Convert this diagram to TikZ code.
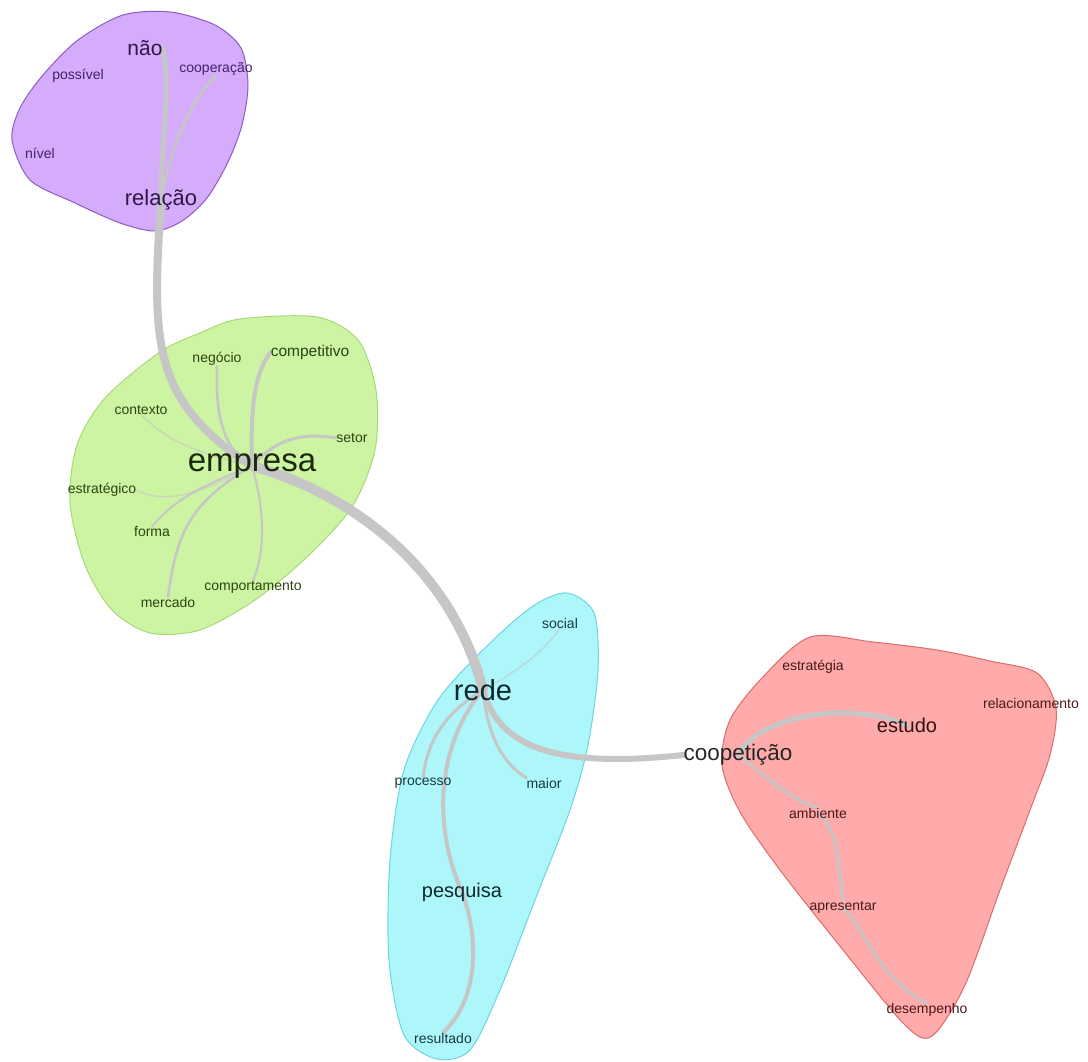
\documentclass[tikz,border=0pt]{standalone}
\usepackage{fontspec}
\setmainfont{Liberation Sans}
\pgfdeclarelayer{hulls}
\pgfdeclarelayer{links}
\pgfsetlayers{hulls,links,main}
\definecolor{pfill}{HTML}{D4ACFB}\definecolor{pline}{HTML}{8E5CC4}\definecolor{ptext}{HTML}{452066}
\definecolor{gfill}{HTML}{CDF4A2}\definecolor{gline}{HTML}{A8D878}\definecolor{gtext}{HTML}{2C4410}
\definecolor{cfill}{HTML}{ADF7FA}\definecolor{cline}{HTML}{6CD4E4}\definecolor{ctext}{HTML}{143A42}
\definecolor{rfill}{HTML}{FFABAB}\definecolor{rline}{HTML}{E06A6A}\definecolor{rtext}{HTML}{4A1818}
\definecolor{edgegray}{HTML}{C6C6C6}
\tikzset{
  lbl/.style={inner sep=0pt,font=\fontsize{14}{14}\selectfont},
  big/.style={inner sep=0pt,font=\fontsize{#1}{#1}\selectfont},
  hull/.style={line width=1pt},
  link/.style={draw=edgegray,line width=#1,line cap=round},
  faint/.style={draw=edgegray,line width=1.5pt,opacity=0.6,line cap=round}
}
\begin{document}
\begin{tikzpicture}[x=1pt,y=-1pt]
\useasboundingbox (0,0) rectangle (1088,1062);
% ---------- nodes ----------
% purple
\node[big=21,text=ptext!70!black] (nao) at (145,48) {não};
\node[lbl,text=ptext] (coop1) at (216,69) {cooperação};
\node[lbl,text=ptext] (possivel) at (78,76) {possível};
\node[lbl,text=ptext] (nivel) at (40,153) {nível};
\node[big=22,text=ptext!70!black] (rel) at (161,200) {relação};
% green
\node[lbl,text=gtext] (negocio) at (217,359) {negócio};
\node[big=15.5,text=gtext] (compet) at (310,352) {competitivo};
\node[lbl,text=gtext] (contexto) at (141,410) {contexto};
\node[lbl,text=gtext] (setor) at (352,438) {setor};
\node[big=33,text=gtext!60!black] (emp) at (252,466) {empresa};
\node[lbl,text=gtext] (estrat) at (102,490) {estratégico};
\node[lbl,text=gtext] (forma) at (152,532) {forma};
\node[lbl,text=gtext] (comport) at (253,587) {comportamento};
\node[lbl,text=gtext] (mercado) at (168,602) {mercado};
% cyan
\node[lbl,text=ctext] (social) at (560,623) {social};
\node[big=29,text=ctext!70!black] (rede) at (483,690) {rede};
\node[lbl,text=ctext] (processo) at (423,783) {processo};
\node[lbl,text=ctext] (maior) at (544,783) {maior};
\node[big=20,text=ctext!70!black] (pesq) at (462,892) {pesquisa};
\node[lbl,text=ctext] (result) at (443,1038) {resultado};
% red
\node[lbl,text=rtext] (estrategia) at (813,667) {estratégia};
\node[lbl,text=rtext] (relacion) at (1031,703) {relacionamento};
\node[big=20,text=rtext!70!black] (estudo) at (907,725) {estudo};
\node[big=22.5,text=black!85] (coop) at (738,755) {coopetição};
\node[lbl,text=rtext] (ambiente) at (818,813) {ambiente};
\node[lbl,text=rtext] (apres) at (843,907) {apresentar};
\node[lbl,text=rtext] (desemp) at (927,1010) {desempenho};
% ---------- hulls ----------
\begin{pgfonlayer}{hulls}
\draw[hull,fill=pfill,draw=pline] plot[smooth cycle] coordinates {(12,140) (20,108) (43,75) (78,40) (123,15) (170,12) (215,25) (241,48) (248,85) (242,125) (228,162) (207,198) (182,221) (155,231) (120,223) (75,203) (30,180)};
\draw[hull,fill=gfill,draw=gline] plot[smooth cycle] coordinates {(240,319) (317,317) (358,340) (376,390) (375,450) (352,507) (307,557) (255,600) (200,630) (150,633) (112,610) (85,565) (70,503) (77,445) (105,398) (160,352) (200,333)};
\draw[hull,fill=cfill,draw=cline] plot[smooth cycle] coordinates {(567,593) (594,613) (598,670) (588,745) (570,810) (535,900) (500,990) (470,1050) (437,1059) (404,1035) (389,960) (390,860) (404,770) (438,700) (488,645) (533,606)};
\draw[hull,fill=rfill,draw=rline] plot[smooth cycle] coordinates {(810,637) (873,642) (937,650) (990,661) (1037,673) (1056,708) (1050,755) (1030,810) (1000,890) (965,985) (932,1036) (905,1025) (843,950) (780,870) (740,812) (722,765) (730,720) (762,678)};
\end{pgfonlayer}
% ---------- links ----------
\begin{pgfonlayer}{links}
\draw[link=8pt] (rel.center) .. controls (152,340) and (150,400) .. (emp.center);
\draw[link=10pt] (emp.center) .. controls (340,490) and (450,560) .. (rede.center);
\draw[link=6pt] (rede.center) .. controls (500,750) and (560,768) .. (coop.west);
\draw[link=4pt] (rede.center) .. controls (440,740) and (430,820) .. (pesq.center);
\draw[link=4pt] (pesq.center) .. controls (480,940) and (478,1000) .. (result.north);
\draw[link=3pt] (rede.center) .. controls (450,710) and (428,735) .. (processo.north);
\draw[link=3pt] (rede.center) .. controls (488,740) and (505,765) .. (maior.north west);
\draw[faint] (rede.center) .. controls (520,670) and (545,650) .. (social.south);
\draw[link=5pt] (coop.center) .. controls (760,715) and (850,700) .. (estudo.center);
\draw[link=3pt] (coop.center) .. controls (765,775) and (790,800) .. (ambiente.north);
\draw[link=3pt] (ambiente.center) .. controls (840,830) and (838,870) .. (apres.north);
\draw[link=3pt] (apres.center) .. controls (865,930) and (880,980) .. (desemp.north);
\draw[link=2.5pt] (emp.center) .. controls (225,450) and (215,420) .. (negocio.south);
\draw[link=4pt] (emp.center) .. controls (250,400) and (256,372) .. (compet.west);
\draw[link=3pt] (emp.center) .. controls (275,440) and (300,432) .. (setor.west);
\draw[faint] (contexto.south) .. controls (160,432) and (175,448) .. (emp.center);
\draw[faint] (estrat.east) .. controls (160,502) and (190,500) .. (emp.center);
\draw[link=2pt] (forma.north) .. controls (170,505) and (190,490) .. (emp.center);
\draw[link=2.5pt] (mercado.north) .. controls (176,540) and (185,505) .. (emp.center);
\draw[link=2pt] (comport.north) .. controls (268,545) and (262,500) .. (emp.center);
\draw[link=5pt] (nao.east) .. controls (172,90) and (160,150) .. (rel.center);
\draw[link=3pt] (coop1.south) .. controls (190,100) and (170,150) .. (rel.center);
\end{pgfonlayer}
\end{tikzpicture}
\end{document}
